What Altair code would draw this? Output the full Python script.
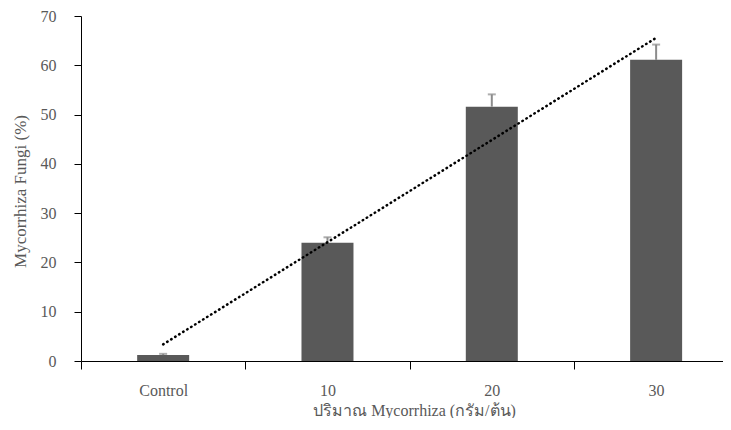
import altair as alt
import pandas as pd

categories = ["Control", "10", "20", "30"]
positions = [1, 2, 3, 4]
means = [1.2, 24.0, 51.6, 61.1]
errors = [0.25, 1.1, 2.5, 3.1]

df = pd.DataFrame({
    "pos": positions,
    "cat": categories,
    "mean": means,
    "upper": [m + e for m, e in zip(means, errors)],
})

FONT = "Liberation Serif"
TXT = "#595959"

label_expr = "datum.value % 1 === 0 ? ['Control','10','20','30'][datum.value - 1] : ''"

x_axis = alt.Axis(
    values=[0.5, 1, 1.5, 2, 2.5, 3, 3.5, 4],
    labelExpr=label_expr,
    tickColor={"condition": {"test": "datum.value % 1 === 0", "value": "transparent"}, "value": "black"},
    tickSize=8,
    labelPadding=13,
    labelFont=FONT, labelFontSize=16, labelColor=TXT,
    domainColor="black", grid=False, labelFlush=False,
    title="ปริมาณ Mycorrhiza (กรัม/ต้น)",
    titleFont=FONT, titleFontSize=16, titleColor=TXT, titleFontWeight="normal",
    titleX=333, titleY=54, titleBaseline="alphabetic", titleAnchor="middle",
)

y_axis = alt.Axis(
    values=[0, 10, 20, 30, 40, 50, 60, 70],
    tickSize=7, tickColor="black", domainColor="black", grid=False,
    labelPadding=18, labelFont=FONT, labelFontSize=16, labelColor=TXT,
    title="Mycorrhiza Fungi (%)",
    titleFont=FONT, titleFontSize=17, titleColor=TXT, titleFontWeight="normal",
    titleX=-61, titleY=175, titleBaseline="middle", titleAngle=-90,
)

xs = alt.Scale(domain=[0.5, 4.407], nice=False, zero=False, padding=0)
ys = alt.Scale(domain=[0, 70], nice=False, padding=0)

base = alt.Chart(df)

bars = base.mark_bar(size=52, color="#595959").encode(
    x=alt.X("pos:Q", scale=xs, axis=x_axis),
    y=alt.Y("mean:Q", scale=ys, axis=y_axis),
)

err = base.mark_rule(color="#8c8c8c", strokeWidth=2).encode(
    x="pos:Q", y="mean:Q", y2="upper:Q"
)

caps = base.mark_tick(color="#8c8c8c", orient="horizontal", size=8, thickness=2).encode(
    x="pos:Q", y="upper:Q"
)

trend = base.transform_regression("pos", "mean").mark_line(
    color="black", strokeWidth=2.5, strokeDash=[0.5, 4.2], strokeCap="round"
).encode(x="pos:Q", y="mean:Q")

chart = alt.layer(bars, err, caps, trend).properties(
    width=642, height=345,
    autosize=alt.AutoSizeParams(type="none"),
    padding={"left": 73, "top": 8, "right": 0, "bottom": 57},
).configure_view(stroke=None)

chart.save("out.html", embed_options={"renderer": "svg", "actions": False})
